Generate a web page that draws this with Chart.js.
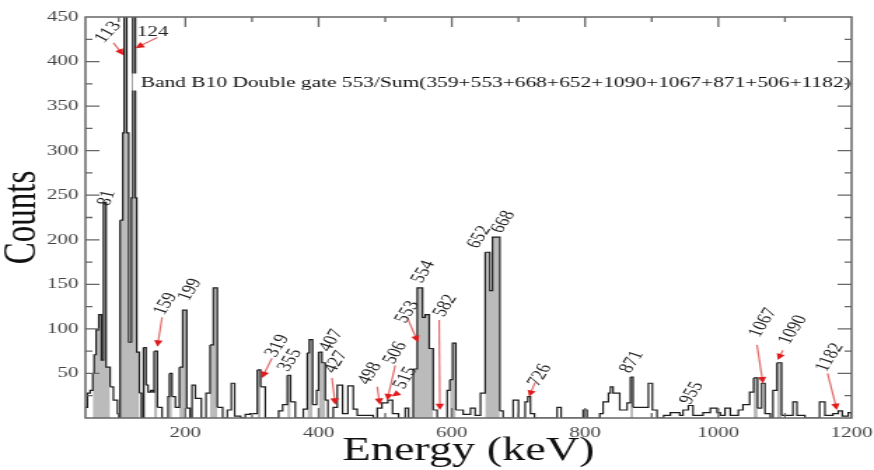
<!DOCTYPE html>
<html lang="en">
<head>
<meta charset="UTF-8">
<title>Band B10 double gate spectrum</title>
<script src="https://cdn.jsdelivr.net/npm/chart.js@4"></script>
<style>
    html, body { margin: 0; padding: 0; background: #fff; overflow: hidden; }
    /* the original figure is widened sideways, so draw narrow and stretch it */
    .stretch { width: 624px; height: 470px; transform: scaleX(1.4006); transform-origin: 0 0; }
</style>
</head>
<body>
<div class="stretch"><canvas id="spectrum" width="624" height="470"></canvas></div>
<script>
// spectrum: left edge of each step (keV) and the counts in that step
const binEdges = [50, 53, 57, 61, 63, 66, 70, 74, 77, 81, 87, 92, 98, 100, 102, 106, 108, 112, 115, 119,
    121, 125, 127, 131, 134, 137, 141, 144, 148, 151, 153, 158, 165, 174, 176, 180, 185, 191, 196, 202,
    207, 210, 215, 224, 231, 237, 242, 248, 256, 263, 269, 274, 283, 290, 297, 308, 313, 320, 340, 346,
    353, 358, 365, 377, 383, 386, 391, 397, 400, 405, 410, 414, 422, 428, 436, 444, 452, 458, 482, 488,
    495, 504, 511, 520, 530, 535, 542, 548, 556, 560, 566, 572, 578, 593, 597, 601, 606, 617, 628, 635,
    643, 650, 657, 661, 672, 677, 692, 700, 710, 714, 718, 724, 758, 764, 797, 803, 822, 827, 835, 838,
    842, 852, 863, 868, 872, 895, 901, 908, 918, 928, 942, 947, 955, 962, 977, 988, 998, 1003, 1010, 1018,
    1030, 1037, 1047, 1053, 1059, 1065, 1070, 1078, 1082, 1088, 1095, 1112, 1118, 1130, 1152, 1160, 1172, 1180, 1186, 1195,
    1200];
const counts = [12, 28, 31, 50, 71, 99, 116, 65, 242, 57, 35, 20, 5, 0, 222, 320, 520, 320, 85, 247,
    480, 247, 74, 28, 0, 79, 37, 29, 31, 29, 75, 12, 0, 24, 50, 24, 12, 57, 121, 11,
    0, 37, 22, 0, 28, 82, 146, 12, 0, 9, 39, 2, 0, 4, 5, 54, 35, 0, 8, 15,
    48, 18, 0, 10, 73, 88, 15, 31, 74, 62, 20, 0, 12, 37, 5, 36, 10, 3, 0, 11,
    17, 20, 5, 0, 11, 0, 55, 146, 113, 116, 78, 9, 0, 31, 43, 84, 9, 4, 11, 3,
    28, 186, 143, 203, 8, 0, 20, 0, 18, 24, 5, 0, 12, 0, 9, 0, 5, 18, 28, 35,
    28, 9, 17, 46, 12, 39, 9, 0, 3, 6, 3, 9, 14, 3, 6, 11, 6, 3, 11, 3,
    9, 15, 29, 45, 11, 39, 5, 0, 31, 62, 3, 18, 3, 0, 18, 3, 5, 8, 2, 6,
    0];

const xTicks = [200, 400, 600, 800, 1000, 1200];
const yTicks = [50, 100, 150, 200, 250, 300, 350, 400, 450];

// peak labels: text, where the text sits (keV, counts) and its slant
const peakText = ['113', '124', '81', '159', '199', '319', '355', '407', '427', '498', '506', '515',
    '553', '554', '582', '652', '668', '726', '871', '955', '1067', '1090', '1182'];
const peakTextE = [84, 151, 82, 170, 207, 338, 357, 419, 426, 477, 515, 530,
    533, 557, 590, 641, 677, 732, 870, 960, 1067, 1112, 1167];
const peakTextC = [433, 433, 247, 128, 144, 81, 65, 87, 63, 50, 73, 45,
    119, 164, 126, 203, 220, 48, 63, 28, 107, 99, 68];
const peakAngle = [-55, 0, -75, -65, -65, -65, -65, -65, -65, -65, -65, -65,
    -65, -65, -65, -65, -65, -65, -65, -65, -65, -65, -65];

// red arrows from label to peak (keV, counts)
const arrowFromE = [92, 158, 165, 330, 420, 488, 515, 519, 533, 581, 725, 1058, 1097, 1164];
const arrowFromC = [421, 427, 113, 67, 45, 35, 59, 28, 113, 110, 40, 82, 76, 50];
const arrowToE = [107, 125, 158, 315, 425, 492, 503, 510, 549, 582, 716, 1067, 1089, 1178];
const arrowToC = [407, 415, 80, 45, 15, 15, 20, 24, 85, 9, 24, 39, 65, 9];

const gateTitle = 'Band B10 Double gate 553/Sum(359+553+668+652+1090+1067+871+506+1182)';

const serif = '"Liberation Serif", "Times New Roman", serif';

const points = binEdges.map((e, i) => ({ x: e, y: counts[i] }));

// narrow tall steps look grey in the original, wide low ones stay white
function stepShade(ctx) {
    const i = ctx.p0DataIndex;
    const width = binEdges[i + 1] - binEdges[i];
    return width <= 11 && counts[i] >= 40 ? 'rgba(120, 120, 120, 0.5)' : 'rgba(0, 0, 0, 0)';
}

function drawArrow(ctx, x0, y0, x1, y1) {
    const ang = Math.atan2(y1 - y0, x1 - x0);
    const head = 7;
    ctx.strokeStyle = 'rgba(215, 70, 70, 0.8)';
    ctx.lineWidth = 1.2;
    ctx.beginPath();
    ctx.moveTo(x0, y0);
    ctx.lineTo(x1 - Math.cos(ang) * head * 0.6, y1 - Math.sin(ang) * head * 0.6);
    ctx.stroke();
    ctx.fillStyle = '#e01b1b';
    ctx.beginPath();
    ctx.moveTo(x1, y1);
    ctx.lineTo(x1 - Math.cos(ang - 0.45) * head, y1 - Math.sin(ang - 0.45) * head);
    ctx.lineTo(x1 - Math.cos(ang + 0.45) * head, y1 - Math.sin(ang + 0.45) * head);
    ctx.closePath();
    ctx.fill();
}

const decorations = {
    id: 'decorations',
    afterDatasetsDraw(chart) {
        const { ctx, chartArea: a, scales: { x, y } } = chart;
        ctx.save();

        // gate title, on a white box that hides the 124 peak behind it
        ctx.font = '15.3px ' + serif;
        const tx = x.getPixelForValue(133);
        const ty = y.getPixelForValue(372);
        const tw = ctx.measureText(gateTitle).width;
        ctx.fillStyle = '#fff';
        ctx.fillRect(tx - 6, ty - 13, tw + 8, 17);
        ctx.fillStyle = '#111';
        ctx.textBaseline = 'alphabetic';
        ctx.fillText(gateTitle, tx, ty);

        // arrows
        arrowFromE.forEach((e, i) => {
            drawArrow(ctx, x.getPixelForValue(e), y.getPixelForValue(arrowFromC[i]),
                x.getPixelForValue(arrowToE[i]), y.getPixelForValue(arrowToC[i]));
        });

        // peak energies
        ctx.font = '15px ' + serif;
        ctx.fillStyle = '#222';
        ctx.textAlign = 'center';
        ctx.textBaseline = 'middle';
        peakText.forEach((t, i) => {
            ctx.save();
            ctx.translate(x.getPixelForValue(peakTextE[i]), y.getPixelForValue(peakTextC[i]));
            ctx.rotate(peakAngle[i] * Math.PI / 180);
            ctx.fillText(t, 0, 0);
            ctx.restore();
        });

        // frame
        ctx.strokeStyle = '#666';
        ctx.lineWidth = 1.5;
        ctx.strokeRect(a.left, a.top, a.right - a.left, a.bottom - a.top);

        // inward ticks, major and minor
        ctx.lineWidth = 1.3;
        ctx.beginPath();
        for (let v = 25; v < 450; v += 25) {
            const py = y.getPixelForValue(v);
            const len = v % 50 ? 5 : 10;
            ctx.moveTo(a.left, py); ctx.lineTo(a.left + len, py);
            ctx.moveTo(a.right, py); ctx.lineTo(a.right - len, py);
        }
        for (let v = 100; v < 1200; v += 100) {
            const px = x.getPixelForValue(v);
            const len = v % 200 ? 5 : 10;
            ctx.moveTo(px, a.top); ctx.lineTo(px, a.top + len);
            ctx.moveTo(px, a.bottom); ctx.lineTo(px, a.bottom - len);
        }
        ctx.stroke();
        ctx.restore();
    }
};

new Chart(document.getElementById('spectrum'), {
    type: 'line',
    data: {
        datasets: [{
            data: points,
            stepped: 'before',   // each count holds from its edge up to the next edge
            borderColor: '#1c1c1c',
            borderWidth: 1.2,
            pointRadius: 0,
            fill: 'origin',
            backgroundColor: 'rgba(0, 0, 0, 0)',
            segment: { backgroundColor: stepShade }
        }]
    },
    options: {
        responsive: false,
        animation: false,
        devicePixelRatio: 1,
        layout: { padding: { top: 17, right: 16, left: 0, bottom: 0 } },
        plugins: {
            legend: { display: false },
            tooltip: { enabled: false }
        },
        scales: {
            x: {
                type: 'linear',
                min: 50,
                max: 1200,
                afterBuildTicks: s => { s.ticks = xTicks.map(v => ({ value: v })); },
                afterFit: s => { s.height = 52; s.paddingLeft = 0; s.paddingRight = 0; },
                grid: { display: false, drawTicks: false },
                border: { display: false },
                ticks: {
                    font: { family: serif, size: 15 }, color: '#444', padding: 6,
                    maxRotation: 0, autoSkip: false, callback: v => String(v)
                },
                title: {
                    display: true, text: 'Energy (keV)', color: '#111',
                    font: { family: serif, size: 33, lineHeight: 1 },
                    padding: { top: 0, bottom: 2 }
                }
            },
            y: {
                min: 0,
                max: 450,
                afterBuildTicks: s => { s.ticks = yTicks.map(v => ({ value: v })); },
                afterFit: s => { s.width = 61; s.paddingTop = 0; s.paddingBottom = 0; },
                grid: { display: false, drawTicks: false },
                border: { display: false },
                ticks: { font: { family: serif, size: 15 }, color: '#444', padding: 5, callback: v => String(v) },
                title: {
                    display: true, text: 'Counts', color: '#111',
                    font: { family: serif, size: 33, lineHeight: 1 },
                    padding: 0
                }
            }
        }
    },
    plugins: [decorations]
});
</script>
</body>
</html>
